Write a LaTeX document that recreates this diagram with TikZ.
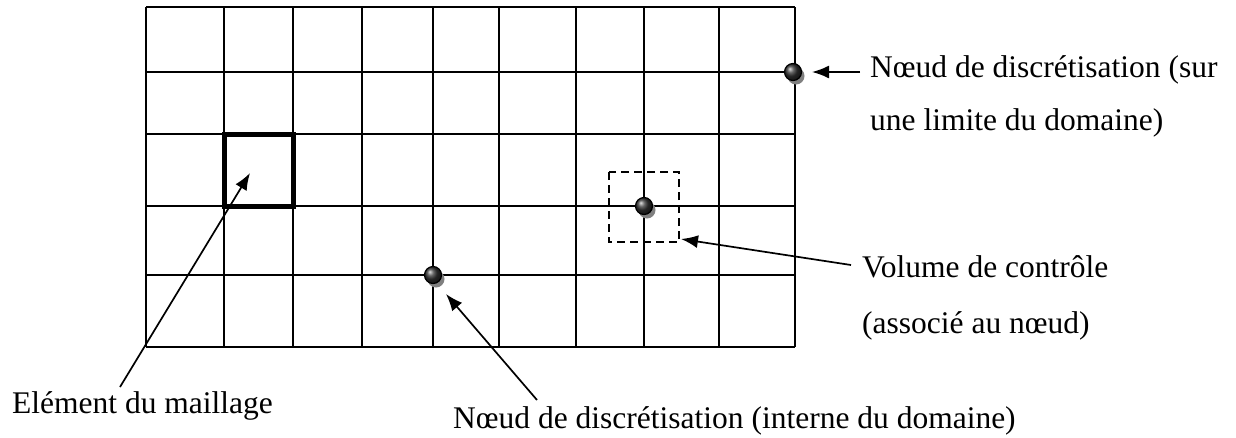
\documentclass[tikz,border=0pt]{standalone}
\usepackage{fontspec}
\setmainfont{Liberation Serif}
\usetikzlibrary{arrows.meta}
\begin{document}
\begin{tikzpicture}[x=1pt,y=-1pt,
  gridline/.style={line width=2pt,black},
  elembox/.style={line width=5pt,black},
  volbox/.style={line width=2.4pt,black,dash pattern=on 8pt off 5pt},
  dotnode/.style={circle,inner sep=0pt,minimum size=17pt,draw=black,line width=1.2pt,shading=ball,ball color=black!80},
  dotshadow/.style={circle,inner sep=0pt,minimum size=17pt,fill=black!50},
  lbl/.style={inner sep=0pt,anchor=base west,font=\fontsize{31.5}{38}\selectfont},
  arr/.style={line width=1.7pt,-{Latex[length=17pt,width=13pt]}}]
\useasboundingbox (0,0) rectangle (1236,437);
% grid
\foreach \xx in {146,224,293,362,433,499,576,644,719,795}
  \draw[gridline] (\xx,7) -- (\xx,347);
\foreach \yy in {7,72,134,206,275,347}
  \draw[gridline] (146,\yy) -- (795,\yy);
% element of the mesh
\draw[elembox] (224,134) rectangle (293,206);
% control volume
\draw[volbox] (609,172) rectangle (679,242);
% dots with shadows
\node[dotshadow] at (796,76) {};
\node[dotshadow] at (647,210) {};
\node[dotshadow] at (436,279) {};
\node[dotnode] (nb) at (793,72) {};
\node[dotnode] (nv) at (644,206) {};
\node[dotnode] (ni) at (433,275) {};
% labels
\node[lbl] (tb1) at (870,77) {Nœud de discrétisation (sur};
\node[lbl] (tb2) at (870,130) {une limite du domaine)};
\node[lbl] (tv1) at (862,277) {Volume de contrôle};
\node[lbl] (tv2) at (862,333) {(associé au nœud)};
\node[lbl] (te) at (12,413) {Elément du maillage};
\node[lbl] (ti) at (453,428) {Nœud de discrétisation (interne du domaine)};
% arrow end points
\coordinate (bS) at (860,72);  \coordinate (bE) at (812,72);
\coordinate (vS) at (851,265); \coordinate (vE) at (681,239);
\coordinate (eS) at (120,387); \coordinate (eE) at (250,173);
\coordinate (iS) at (537,400); \coordinate (iE) at (446,294);
\draw[arr] (bS) -- (bE);
\draw[arr] (vS) -- (vE);
\draw[arr] (eS) -- (eE);
\draw[arr] (iS) -- (iE);
\end{tikzpicture}
\end{document}
